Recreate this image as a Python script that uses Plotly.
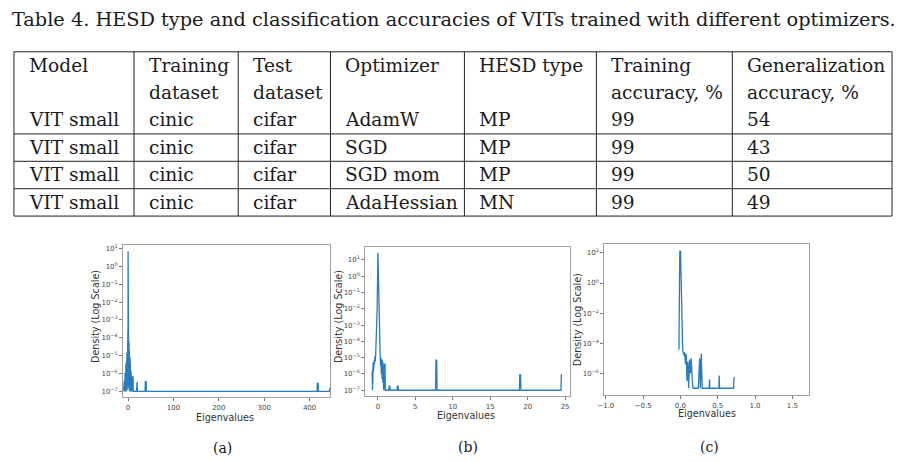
import plotly.graph_objects as go

# --- Table 4 data ---
title_text = "Table 4. HESD type and classification accuracies of VITs trained with different optimizers."
header_top = ["Model", "Training", "Test", "Optimizer", "HESD type", "Training", "Generalization"]
header_bottom = ["", "dataset", "dataset", "", "", "accuracy, %", "accuracy, %"]
models = ["VIT small", "VIT small", "VIT small", "VIT small"]
train_sets = ["cinic", "cinic", "cinic", "cinic"]
test_sets = ["cifar", "cifar", "cifar", "cifar"]
optimizers = ["AdamW", "SGD", "SGD mom", "AdaHessian"]
hesd_types = ["MP", "MP", "MP", "MN"]
train_acc = [99, 99, 99, 99]
gen_acc = [54, 43, 50, 49]

# --- Hessian eigenvalue spectra (density, log scale) ---
# (a) AdamW
a_eig = [-10, -9.5, -9, -8.5, -8, -7.5, -7, -6.5, -6, -5.5, -5, -4.5, -4, -3.5, -3, -2.5,
         -2, -1.5, -1, -0.5, -0.2, 0, 0.2, 0.5, 1, 1.5, 2, 2.5, 3, 3.5, 4, 4.5, 5, 5.5, 6,
         6.5, 7, 8, 9, 10, 11, 11.5, 18.5, 19, 20, 20.5, 37.5, 38, 40, 40.5,
         416.5, 417, 419, 419.5, 444, 444.5, 446]
a_dens = [1e-7, 2.5e-7, 1e-7, 4e-7, 1e-7, 7e-7, 1e-7, 1.1e-6, 1e-7, 2e-6, 1e-7, 4e-6,
          1e-7, 7e-6, 1e-7, 1.5e-5, 1.2e-7, 4e-5, 1.5e-7, 2.5e-4, 2e-7, 7.0, 4.5e-4, 2e-7,
          2e-4, 1.5e-7, 6e-5, 1.2e-7, 2e-5, 1e-7, 8e-6, 1e-7, 3.5e-6, 1e-7, 1.5e-6, 1e-7,
          7e-7, 1e-7, 7e-7, 1e-7, 7e-7, 1e-7, 1e-7, 3.5e-7, 3.5e-7, 1e-7, 1e-7, 3.5e-7,
          3.5e-7, 1e-7, 1e-7, 2.8e-7, 2.8e-7, 1e-7, 1e-7, 1.5e-7, 1.5e-7]

# (b) SGD
b_eig = [-0.78, -0.75, -0.72, -0.7, -0.68, -0.65, -0.62, -0.58, -0.55, -0.5, -0.45, -0.4,
         -0.35, -0.3, -0.2, -0.1, 0, 0.1, 0.2, 0.25, 0.3, 0.35, 0.4, 0.45, 0.5, 0.55, 0.6,
         0.65, 0.7, 0.75, 0.8, 0.9, 0.95, 1.0, 1.45, 1.5, 1.6, 1.65, 2.55, 2.6, 2.7, 2.75,
         7.7, 7.75, 7.85, 7.9, 18.9, 18.95, 19.05, 19.1, 24.45, 24.5, 24.55]
b_dens = [1.4e-6, 2e-7, 1e-7, 2e-6, 3e-7, 5e-6, 1.5e-6, 5e-6, 2.5e-6, 7e-6, 4e-6, 1.2e-5,
          6e-6, 1.5e-5, 2e-4, 1e-2, 28, 2e-2, 2e-4, 2e-5, 1.5e-5, 3e-6, 1e-5, 1e-6, 8e-6,
          5e-7, 7e-6, 3e-7, 5e-6, 1.5e-7, 1e-7, 4e-6, 4e-6, 1e-7, 1e-7, 1.8e-7, 1.8e-7,
          1e-7, 1e-7, 1.8e-7, 1.8e-7, 1e-7, 1e-7, 7e-6, 7e-6, 1e-7, 1e-7, 9e-7, 9e-7,
          1e-7, 1e-7, 9e-7, 9e-7]

# (c) AdaHessian
c_eig = [-0.02, -0.008, 0.002, 0.02, 0.03, 0.045, 0.055, 0.068, 0.078, 0.088, 0.1, 0.11,
         0.123, 0.135, 0.145, 0.16, 0.17, 0.24, 0.25, 0.258, 0.268, 0.28, 0.292, 0.385,
         0.39, 0.395, 0.515, 0.52, 0.525, 0.712, 0.72]
c_dens = [3.6e-5, 140, 130, 9e-5, 4e-5, 1.6e-5, 2.5e-5, 4e-6, 2e-5, 3e-7, 6e-6, 1e-7,
          8e-6, 1e-6, 1e-5, 3e-7, 1e-7, 1e-7, 8e-6, 1e-5, 1e-7, 2e-5, 1e-7, 1e-7,
          4e-7, 1e-7, 1e-7, 7e-7, 1e-7, 1e-7, 5.6e-7]

a_xticks = [0, 100, 200, 300, 400]
b_xticks = [0, 5, 10, 15, 20, 25]
c_xticks = [-1.0, -0.5, 0.0, 0.5, 1.0, 1.5]
ab_yexp = [-7, -6, -5, -4, -3, -2, -1, 0, 1]
c_yexp = [-6, -4, -2, 0, 2]

# --- layout (pixel positions on 900x462 page) ---
W, H = 900, 462
col_edges = [7, 128, 233, 326, 461, 594, 731, 892]
row_lines = [50, 132.5, 160, 187.5, 215]
header_y = [64, 91]
row_y = [118, 146, 173, 201]
pad = 13
serif = "DejaVu Serif"
sans = "DejaVu Sans"
line_color = "#2a7dbd"
fs_title = 19.3
fs = 18.6


def px(x):
    return x / W


def py(y):
    return 1 - y / H


def sup(e):
    s = str(e).replace("-", "\u2212")
    return "10<sup>" + s + "</sup>"


fig = go.Figure()

panels = [
    (a_eig, a_dens, "", [117, 326], [244, 397], [-11, 446], [-7.33, 1.2], a_xticks,
     [str(t) for t in a_xticks], ab_yexp),
    (b_eig, b_dens, "2", [361, 567], [246, 396], [-1.7, 25.6], [-7.37, 1.8], b_xticks,
     [str(t) for t in b_xticks], ab_yexp),
    (c_eig, c_dens, "3", [602, 808], [243, 395], [-1.02, 1.72], [-7.47, 2.6], c_xticks,
     [("%.1f" % t).replace("-", "\u2212") for t in c_xticks], c_yexp),
]

axis_common = dict(showline=True, mirror=True, linecolor="#a0a0a0", linewidth=1,
                   ticks="outside", ticklen=3, tickcolor="#777", showgrid=False,
                   zeroline=False, tickfont=dict(family=sans, size=7, color="#444"))

for eig, dens, n, xs, ys, xr, yr, xt, xtt, ye in panels:
    fig.add_trace(go.Scatter(x=eig, y=dens, mode="lines", xaxis="x" + n, yaxis="y" + n,
                             line=dict(color=line_color, width=1.3), showlegend=False,
                             hoverinfo="skip"))
    fig.update_layout(**{
        "xaxis" + n: dict(axis_common, domain=[px(xs[0]), px(xs[1])], range=xr,
                          anchor="y" + n, tickvals=xt, ticktext=xtt),
        "yaxis" + n: dict(axis_common, domain=[py(ys[1]), py(ys[0])], range=yr,
                          type="log", anchor="x" + n,
                          tickvals=[10.0 ** e for e in ye], ticktext=[sup(e) for e in ye]),
    })

annotations = []


def text_at(x, y, s, size, family=serif, xanchor="left", angle=0, color="#1a1a1a"):
    annotations.append(dict(x=px(x), y=py(y), xref="paper", yref="paper", text=s,
                            showarrow=False, xanchor=xanchor, yanchor="middle",
                            textangle=angle, font=dict(family=family, size=size, color=color)))


# title
text_at(450, 18, title_text, fs_title, xanchor="center")

# table header
for i in range(7):
    text_at(col_edges[i] + pad, header_y[0], header_top[i], fs)
    if header_bottom[i]:
        text_at(col_edges[i] + pad, header_y[1], header_bottom[i], fs)

# table body
columns = [models, train_sets, test_sets, optimizers, hesd_types, train_acc, gen_acc]
for r in range(len(models)):
    for c in range(7):
        text_at(col_edges[c] + pad, row_y[r], str(columns[c][r]), fs)

shapes = []
for y in row_lines:
    shapes.append(dict(type="line", xref="paper", yref="paper", x0=px(col_edges[0]),
                       x1=px(col_edges[-1]), y0=py(y), y1=py(y),
                       line=dict(color="#222", width=1)))
for x in col_edges:
    shapes.append(dict(type="line", xref="paper", yref="paper", x0=px(x), x1=px(x),
                       y0=py(row_lines[0]), y1=py(row_lines[-1]),
                       line=dict(color="#222", width=1)))

# axis titles and captions
ylab_pos = [(89, 316), (334, 316), (575, 319)]
xlab_pos = [(220, 417), (463, 415), (705, 413)]
cap_pos = [(217, 448), (465, 447), (708, 447)]
for (yx, yy), (xx, xy), (cx, cy), lab in zip(ylab_pos, xlab_pos, cap_pos, ["(a)", "(b)", "(c)"]):
    text_at(yx, yy, "Density (Log Scale)", 9.6, family=sans, xanchor="center", angle=-90, color="#333")
    text_at(xx, xy, "Eigenvalues", 9.6, family=sans, xanchor="center", color="#333")
    text_at(cx, cy, lab, 14, xanchor="center")

fig.update_layout(width=W, height=H, margin=dict(l=0, r=0, t=0, b=0),
                  paper_bgcolor="white", plot_bgcolor="white", showlegend=False,
                  annotations=annotations, shapes=shapes)

fig.write_html("out.html", config={"displayModeBar": False},
               post_script="document.body.style.margin='0';")
